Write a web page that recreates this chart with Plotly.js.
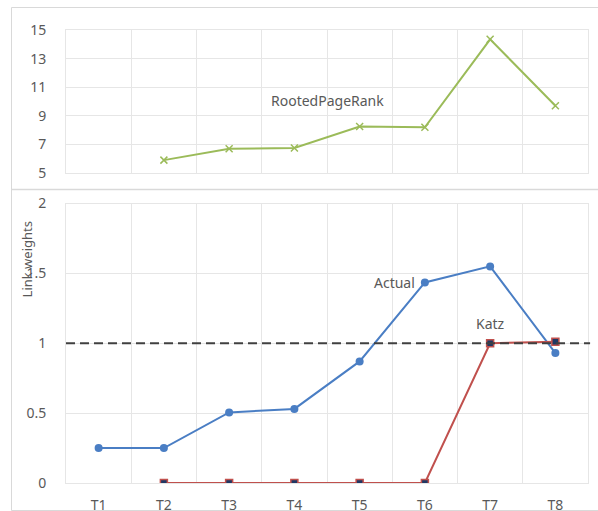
<!DOCTYPE html>
<html>
<head>
<meta charset="utf-8">
<script src="https://cdn.plot.ly/plotly-3.0.1.min.js"></script>
<style>html,body{margin:0;padding:0;background:#fff;}#chart{width:598px;height:511px;}</style>
</head>
<body>
<div id="chart"></div>
<script>
const categories = ['T1','T2','T3','T4','T5','T6','T7','T8'];
const actual = [0.25, 0.25, 0.505, 0.53, 0.87, 1.435, 1.55, 0.93];
const katz = [null, 0, 0, 0, 0, 0, 1.0, 1.01];
const rootedPageRank = [null, 5.9, 6.7, 6.75, 8.25, 8.2, 14.35, 9.7];
const threshold = 1;
const topTicks = [5, 7, 9, 11, 13, 15];
const bottomTicks = [0, 0.5, 1, 1.5, 2];
const bottomTickText = ['0', '0.5', '1', '1.5', '2'];

const FONT = 'Noto Sans, Open Sans, sans-serif';
const TXT = '#595959';
const GRID = '#e6e6e6';
const FRAME = '#d9d9d9';

const traces = [
  {
    x: categories, y: rootedPageRank, xaxis: 'x2', yaxis: 'y2',
    type: 'scatter', mode: 'lines+markers', connectgaps: false,
    line: {color: '#9bbb59', width: 2},
    marker: {symbol: 'x-thin-open', size: 7, color: '#9bbb59', line: {color: '#9bbb59', width: 1.5}},
    hoverinfo: 'skip'
  },
  {
    x: categories, y: actual, xaxis: 'x', yaxis: 'y',
    type: 'scatter', mode: 'lines+markers',
    line: {color: '#4a7ec4', width: 2},
    marker: {symbol: 'circle', size: 8, color: '#4a7ec4'},
    hoverinfo: 'skip'
  },
  {
    x: categories, y: katz, xaxis: 'x', yaxis: 'y',
    type: 'scatter', mode: 'lines+markers', connectgaps: false,
    line: {color: '#c0504d', width: 2},
    marker: {symbol: 'square', size: 7, color: '#1f3864', line: {color: '#c0504d', width: 1.5}},
    hoverinfo: 'skip'
  }
];

const H = 453; // paper height in px (511 - 30 - 28)
const W = 522; // paper width in px (598 - 66 - 10)
function px(v){ return (v - 66) / W; }
function py(v){ return (483 - v) / H; }

const baseX = {
  type: 'category', range: [-0.5, 7.5], tickson: 'boundaries',
  showgrid: true, gridcolor: GRID, gridwidth: 1,
  showline: true, mirror: true, linecolor: GRID, linewidth: 1,
  zeroline: false, ticks: '', fixedrange: true
};

const layout = {
  width: 598, height: 511,
  margin: {l: 66, r: 10, t: 30, b: 28},
  paper_bgcolor: '#ffffff', plot_bgcolor: '#ffffff',
  showlegend: false,
  font: {family: FONT, size: 14, color: TXT},
  xaxis: Object.assign({}, baseX, {
    anchor: 'y', domain: [0, 1],
    showticklabels: true, ticklabelstandoff: 9,
    tickfont: {family: FONT, size: 14, color: TXT}
  }),
  xaxis2: Object.assign({}, baseX, {
    anchor: 'y2', domain: [0, 1], matches: 'x', showticklabels: false
  }),
  yaxis: {
    anchor: 'x', domain: [0, py(203.5)], range: [0, 2],
    tickvals: bottomTicks, ticktext: bottomTickText,
    showgrid: true, gridcolor: GRID, zeroline: false,
    showline: true, mirror: true, linecolor: GRID,
    ticks: '', ticklabelstandoff: 16,
    tickfont: {family: FONT, size: 14, color: TXT}, fixedrange: true
  },
  yaxis2: {
    anchor: 'x2', domain: [py(173), 1], range: [5, 15],
    tickvals: topTicks,
    showgrid: true, gridcolor: GRID, zeroline: false,
    showline: true, mirror: true, linecolor: GRID,
    ticks: '', ticklabelstandoff: 16,
    tickfont: {family: FONT, size: 14, color: TXT}, fixedrange: true
  },
  shapes: [
    {type: 'line', xref: 'x domain', yref: 'y', x0: 0, x1: 1.004, y0: threshold, y1: threshold,
     line: {color: '#404040', width: 2, dash: '9px,5px'}, layer: 'above'},
    {type: 'rect', xref: 'paper', yref: 'paper', x0: px(11.5), x1: px(602), y0: py(510.5), y1: py(7.5),
     line: {color: FRAME, width: 1}, fillcolor: 'rgba(0,0,0,0)', layer: 'below'},
    {type: 'line', xref: 'paper', yref: 'paper', x0: px(11.5), x1: px(602), y0: py(189.5), y1: py(189.5),
     line: {color: FRAME, width: 1.5}, layer: 'below'}
  ],
  annotations: [
    {xref: 'x2', yref: 'y2', x: 3.5, y: 10.1, text: 'RootedPageRank', showarrow: false,
     xanchor: 'center', yanchor: 'middle', font: {family: FONT, size: 14, color: TXT}},
    {xref: 'x', yref: 'y', x: 5, y: 1.435, text: 'Actual', showarrow: false,
     xanchor: 'right', yanchor: 'middle', xshift: -8, font: {family: FONT, size: 14, color: TXT}},
    {xref: 'x', yref: 'y', x: 6, y: 1.14, text: 'Katz', showarrow: false,
     xanchor: 'center', yanchor: 'middle', font: {family: FONT, size: 14, color: TXT}},
    {xref: 'paper', yref: 'y', x: px(27), y: 1.6, text: 'Link weights', showarrow: false,
     textangle: -90, xanchor: 'center', yanchor: 'middle', font: {family: FONT, size: 13, color: TXT}}
  ]
};

Plotly.newPlot('chart', traces, layout, {displayModeBar: false, staticPlot: true});
</script>
</body>
</html>
